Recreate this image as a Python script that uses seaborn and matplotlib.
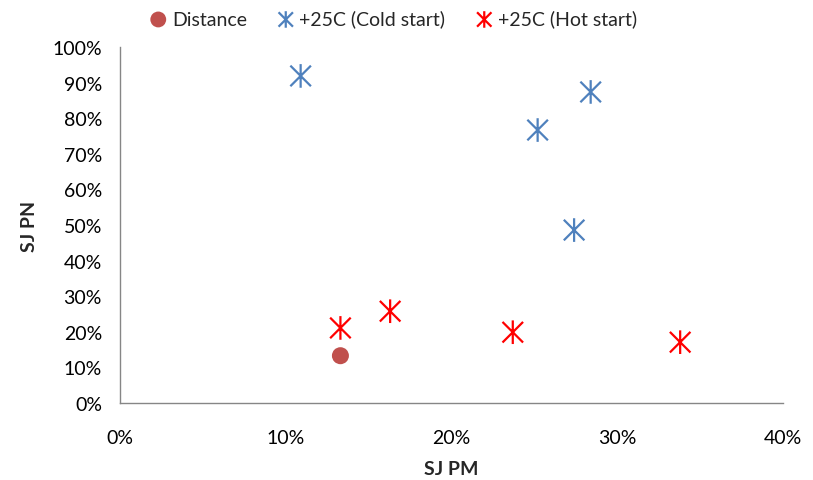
import matplotlib.pyplot as plt
import seaborn as sns
import pandas as pd
from matplotlib.path import Path
from matplotlib.ticker import PercentFormatter

# values (fractions)
distance_pm = [0.133]
distance_pn = [0.133]
cold_pm = [0.109, 0.252, 0.284, 0.274]
cold_pn = [0.919, 0.767, 0.874, 0.486]
hot_pm = [0.133, 0.163, 0.237, 0.338]
hot_pn = [0.211, 0.258, 0.199, 0.171]

series_names = ['Distance', '+25C (Cold start)', '+25C (Hot start)']
series_colors = ['#C0504D', '#4F81BD', '#FF0000']

df = pd.concat([
    pd.DataFrame({'SJ PM': distance_pm, 'SJ PN': distance_pn, 'series': series_names[0]}),
    pd.DataFrame({'SJ PM': cold_pm, 'SJ PN': cold_pn, 'series': series_names[1]}),
    pd.DataFrame({'SJ PM': hot_pm, 'SJ PN': hot_pn, 'series': series_names[2]}),
], ignore_index=True)

# Excel style asterisk: an x with a vertical bar through it
star = Path([(-1, -1), (1, 1), (-1, 1), (1, -1), (0, -1.15), (0, 1.15)],
            [Path.MOVETO, Path.LINETO, Path.MOVETO, Path.LINETO, Path.MOVETO, Path.LINETO])

sns.set_style('white')
plt.rcParams['font.family'] = ['Lato', 'DejaVu Sans']

fig = plt.figure(figsize=(8.13, 4.81), dpi=100)
ax = fig.add_axes([0.1476, 0.160, 0.8154, 0.740])

palette = dict(zip(series_names, series_colors))
for name in series_names:
    sub = df[df['series'] == name]
    if name == 'Distance':
        sns.scatterplot(data=sub, x='SJ PM', y='SJ PN', ax=ax, color=palette[name],
                        marker='o', s=150, edgecolor='none', label=name)
    else:
        sns.scatterplot(data=sub, x='SJ PM', y='SJ PN', ax=ax, color=palette[name],
                        marker=star, s=290, linewidth=1.6, edgecolor=palette[name],
                        facecolor='none', label=name)

ax.set_xlim(0, 0.40)
ax.set_ylim(0, 1.0)
ax.set_xticks([0, 0.1, 0.2, 0.3, 0.4])
ax.set_yticks([i / 10 for i in range(11)])
ax.xaxis.set_major_formatter(PercentFormatter(1.0, decimals=0))
ax.yaxis.set_major_formatter(PercentFormatter(1.0, decimals=0))

for side in ['top', 'right']:
    ax.spines[side].set_visible(False)
for side in ['left', 'bottom']:
    ax.spines[side].set_color('#868686')
    ax.spines[side].set_linewidth(1.0)
ax.tick_params(axis='both', which='major', direction='out', length=5, width=1.0,
               color='#868686', labelsize=14, labelcolor='black')
ax.tick_params(axis='x', pad=14)
ax.tick_params(axis='y', pad=8)

ax.set_xlabel('SJ PM', fontsize=14, fontweight='bold', labelpad=10)
ax.set_ylabel('SJ PN', fontsize=14, fontweight='bold', labelpad=10)

leg = ax.legend(loc='center', bbox_to_anchor=(0.41, 1.08), ncol=3, frameon=False,
                fontsize=14, handletextpad=0.1, columnspacing=1.4, handlelength=1.2,
                markerscale=0.7)
# the dot in the legend is drawn a bit larger than the asterisks
leg.legend_handles[0].set_sizes([130])

fig.savefig('out.png', dpi=100)
